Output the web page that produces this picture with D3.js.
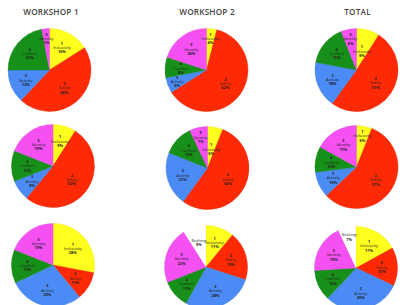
<!DOCTYPE html>
<html>
<head>
<meta charset="utf-8">
<script src="https://cdn.jsdelivr.net/npm/d3@7/dist/d3.min.js"></script>
<style>
html,body{margin:0;padding:0;background:#fff;}
svg{display:block;}
</style>
</head>
<body>
<svg id="chart" width="404" height="305"></svg>
<script>
// ---- data ----
const columns = ["WORKSHOP 1", "WORKSHOP 2", "TOTAL"];
const categoryNums = ["1", "2", "3", "4", "5", ""];
const categoryNames = ["Inclusivity", "Safety", "Activity", "Comfort", "Identity", "Nothing"];
const categoryColors = ["#ffff1e", "#fd2a05", "#4b8bf5", "#17901a", "#f550f2", "#ffffff"];

// row 1
const row1Workshop1 = [16, 46, 13, 22, 3];
const row1Workshop2 = [4, 62, 6, 8, 20];
const row1Total     = [9, 51, 18, 16, 6];
// row 2
const row2Workshop1 = [9, 52, 8, 12, 19];
const row2Workshop2 = [6, 54, 21, 12, 7];
const row2Total     = [6, 57, 10, 10, 17];
// row 3 (includes "Nothing")
const row3Workshop1 = [28, 11, 29, 13, 19];
const row3Workshop2 = [11, 19, 28, 11, 22, 9];
const row3Total     = [17, 15, 30, 12, 19, 7];

const rows = [
  [row1Workshop1, row1Workshop2, row1Total],
  [row2Workshop1, row2Workshop2, row2Total],
  [row3Workshop1, row3Workshop2, row3Total]
];

// ---- layout ----
const colX = [[49.5, 206.5, 356.5], [53, 207.5, 356.5], [53, 206, 356]];
const rowY = [[70, 70, 70], [166, 168, 167], [265, 267, 268]];
const radius = 41.5;
const titleX = [51, 207, 357.5];
const fs = 3.9, lh = 4.3;

const svg = d3.select("#chart");

svg.selectAll("text.title").data(columns).join("text")
  .attr("class", "title")
  .attr("x", (d, i) => titleX[i])
  .attr("y", 14.5)
  .attr("text-anchor", "middle")
  .attr("font-family", "'Open Sans', sans-serif")
  .attr("font-weight", 600)
  .attr("font-size", 8.2)
  .attr("letter-spacing", 0.2)
  .attr("fill", "#454545")
  .text(d => d);

const pie = d3.pie().sort(null).value(d => d.v);
const arc = d3.arc().innerRadius(0).outerRadius(radius);
const fmt = d3.format("d");

function baseFactor(d) {
  const span = d.endAngle - d.startAngle;
  return span < 0.45 ? 0.76 : (span > 2.2 ? 0.56 : 0.62);
}
function posAt(d, f) {
  return d3.arc().innerRadius(radius * f).outerRadius(radius * f).centroid(d);
}
function boxOf(d, c) {
  const w = categoryNames[d.data.k].length * fs * 0.4;
  const h = (categoryNums[d.data.k] ? 3 : 2) * lh - 1.5;
  return { x0: c[0] - w / 2, x1: c[0] + w / 2, y0: c[1] - h / 2, y1: c[1] + h / 2 };
}
function hit(a, b) {
  return a.x0 < b.x1 && b.x0 < a.x1 && a.y0 < b.y1 && b.y0 < a.y1;
}

rows.forEach((row, ri) => {
  row.forEach((vals, ci) => {
    const data = vals.map((v, k) => ({ v, k }));
    const g = svg.append("g")
      .attr("transform", `translate(${colX[ri][ci]},${rowY[ri][ci]})`);
    const arcs = pie(data);
    g.selectAll("path").data(arcs).join("path")
      .attr("d", arc)
      .attr("fill", d => categoryColors[d.data.k])
      .attr("stroke", d => d.data.k === 5 ? "none" : d3.color(categoryColors[d.data.k]).darker(0.3))
      .attr("stroke-width", 0.4);

    // resolve label positions (last slice first), nudging inward on collision
    const placed = [];
    const pos = new Map();
    arcs.slice().reverse().forEach(d => {
      let f = baseFactor(d);
      let c = posAt(d, f), b = boxOf(d, c);
      while (placed.some(p => hit(p, b)) && f > 0.4) {
        f -= 0.03;
        c = posAt(d, f); b = boxOf(d, c);
      }
      placed.push(b);
      pos.set(d, c);
    });

    const lab = g.selectAll("g.lab").data(arcs).join("g")
      .attr("class", "lab")
      .attr("transform", d => {
        const c = pos.get(d);
        return `translate(${c[0]},${c[1]})`;
      })
      .attr("font-family", "'Open Sans', sans-serif")
      .attr("text-anchor", "middle")
      .attr("fill", "#222");
    lab.each(function(d) {
      const s = d3.select(this);
      const num = categoryNums[d.data.k];
      let y = num ? -lh + 1.4 : -lh / 2 + 1.4;
      if (num) {
        s.append("text").attr("y", y).attr("font-size", fs).attr("font-weight", 700).text(num);
        y += lh;
      }
      s.append("text").attr("y", y).attr("font-size", fs).text(categoryNames[d.data.k]);
      s.append("text").attr("y", y + lh).attr("font-size", fs).attr("font-weight", 700)
        .text(fmt(d.data.v) + "%");
    });
  });
});
</script>
</body>
</html>
